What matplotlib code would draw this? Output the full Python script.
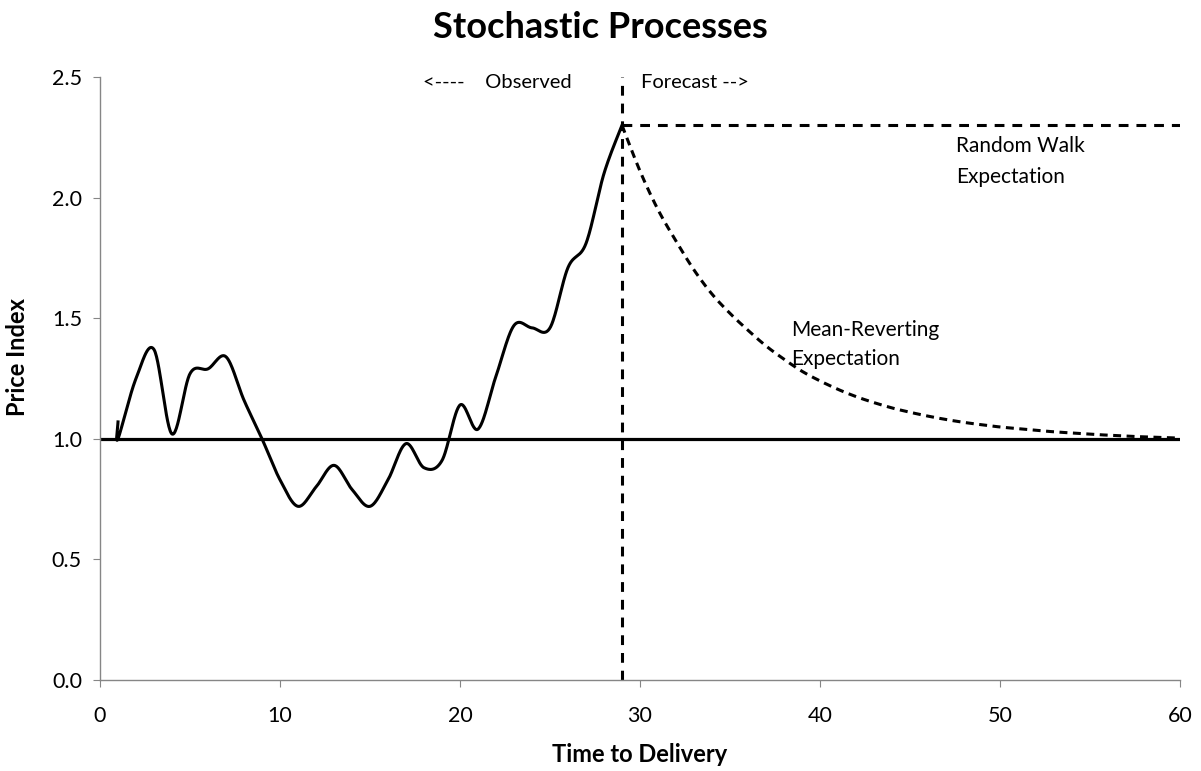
import numpy as np
import matplotlib.pyplot as plt

plt.rcParams['font.family'] = ['Lato', 'DejaVu Sans']

# observed path (time to delivery, price index)
obs_time = [1, 1, 2, 3, 4, 5, 6, 7, 8, 9, 10, 11, 12, 13, 14, 15, 16, 17, 18, 19,
            20, 21, 22, 23, 24, 25, 26, 27, 28, 29]
obs_price = [1.07, 1.00, 1.25, 1.37, 1.02, 1.27, 1.29, 1.34, 1.16, 1.00, 0.83, 0.72,
             0.80, 0.89, 0.79, 0.72, 0.83, 0.98, 0.88, 0.91, 1.14, 1.04, 1.26, 1.47,
             1.46, 1.46, 1.71, 1.81, 2.10, 2.30]

# mean-reverting expectation
mr_time = list(range(29, 61))
mr_price = [2.30, 2.11, 1.95, 1.82, 1.70, 1.60, 1.52, 1.45, 1.385, 1.33, 1.28, 1.24,
            1.205, 1.175, 1.15, 1.128, 1.11, 1.094, 1.08, 1.068, 1.058, 1.049, 1.042,
            1.035, 1.029, 1.024, 1.019, 1.015, 1.011, 1.008, 1.005, 1.003]

# random walk expectation
rw_time = [29, 60]
rw_price = [2.30, 2.30]

long_run_time = [0, 60]
long_run_price = [1.0, 1.0]

now_time = 29


def smooth(xs, ys, n=30):
    # Excel-style smoothed line: Catmull-Rom Bezier through the points
    p = np.column_stack([xs, ys]).astype(float)
    pad = np.vstack([p[0], p, p[-1]])
    t = np.linspace(0, 1, n)[:, None]
    out = []
    for i in range(1, len(pad) - 2):
        p0, p3 = pad[i], pad[i + 1]
        c1 = p0 + (pad[i + 1] - pad[i - 1]) / 6
        c2 = p3 - (pad[i + 2] - pad[i]) / 6
        seg = ((1 - t) ** 3) * p0 + 3 * ((1 - t) ** 2) * t * c1 + 3 * (1 - t) * t ** 2 * c2 + t ** 3 * p3
        out.append(seg)
    out = np.vstack(out)
    return out[:, 0], out[:, 1]


fig = plt.figure(figsize=(12.01, 7.71), dpi=100)
ax = fig.add_axes([100 / 1201, 1 - 680 / 771, 1080 / 1201, 603 / 771])

ax.plot(long_run_time, long_run_price, color='black', lw=2.3, solid_capstyle='butt')
sx, sy = smooth(obs_time, obs_price)
ax.plot(sx, sy, color='black', lw=2.2)
mx, my = smooth(mr_time, mr_price)
ax.plot(mx, my, color='black', lw=2.2, dashes=(2.6, 1.8))
ax.plot(rw_time, rw_price, color='black', lw=2.2, dashes=(3.2, 2.6))
ax.axvline(now_time, color='black', lw=2.2, dashes=(3.2, 2.6))

ax.set_xlim(0, 60)
ax.set_ylim(0, 2.5)
ax.set_xticks(np.arange(0, 61, 10))
ax.set_yticks(np.arange(0, 2.51, 0.5))
ax.yaxis.set_major_formatter(plt.FormatStrFormatter('%.1f'))

for s in ['top', 'right']:
    ax.spines[s].set_visible(False)
for s in ['left', 'bottom']:
    ax.spines[s].set_color('#868686')
    ax.spines[s].set_linewidth(1.0)
ax.tick_params(axis='both', direction='out', length=5, color='#868686',
               labelsize=15.5, labelcolor='black')
ax.tick_params(axis='x', pad=14)
ax.tick_params(axis='y', pad=8)

ax.text(26.2, 2.479, '<----    Observed', ha='right', va='center', fontsize=14.5)
ax.text(30.05, 2.479, 'Forecast -->', ha='left', va='center', fontsize=14.5)
ax.text(47.55, 2.15, 'Random Walk\nExpectation', ha='left', va='center',
        fontsize=15, linespacing=1.65)
ax.text(38.4, 1.39, 'Mean-Reverting\nExpectation', ha='left', va='center',
        fontsize=15, linespacing=1.55)

fig.text(600 / 1201, 1 - 27 / 771, 'Stochastic Processes', ha='center', va='center',
         fontsize=26, fontweight='bold')
fig.text(640 / 1201, 1 - 755 / 771, 'Time to Delivery', ha='center', va='center',
         fontsize=17, fontweight='bold')
fig.text(18 / 1201, 1 - 357 / 771, 'Price Index', ha='center', va='center',
         rotation=90, fontsize=17, fontweight='bold')

fig.savefig('out.png', dpi=100)
